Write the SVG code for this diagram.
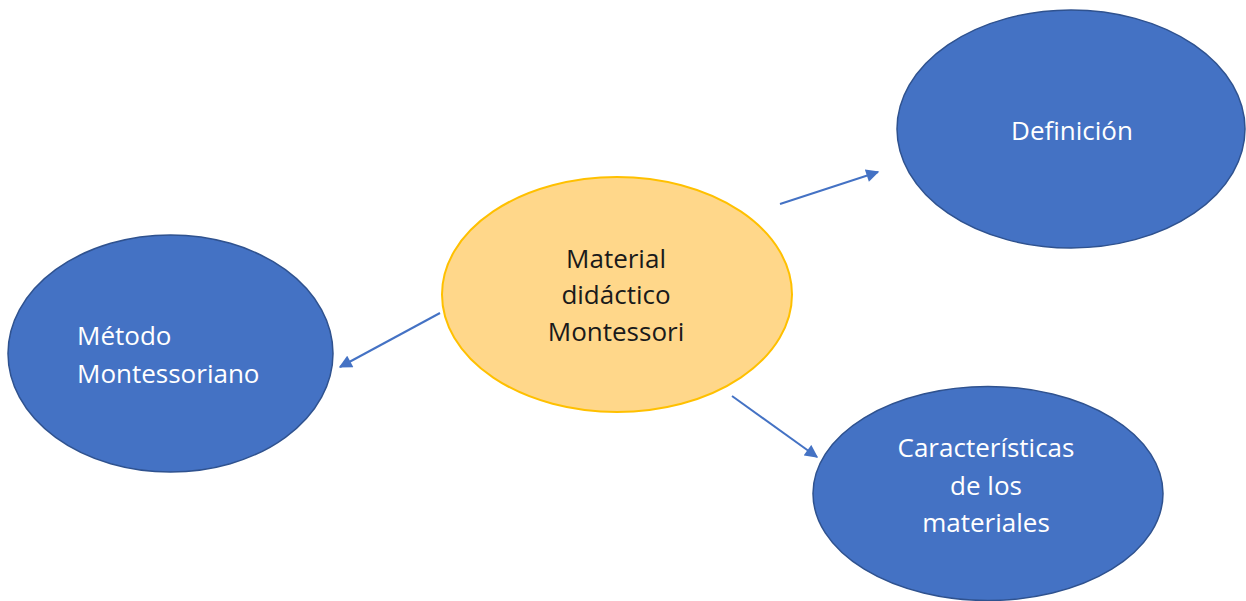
<svg xmlns="http://www.w3.org/2000/svg" width="1246" height="601" viewBox="0 0 1246 601">
<defs>
<marker id="arr" viewBox="0 0 10 10" refX="9" refY="5" markerWidth="7" markerHeight="6.5" markerUnits="strokeWidth" orient="auto">
<path d="M0,0 L10,5 L0,10 Z" fill="#4472C4"/>
</marker>
</defs>
<style>
.blue{fill:#4472C4;stroke:#2F528F;stroke-width:1.5}
.gold{fill:#FFD78A;stroke:#FFC000;stroke-width:2}
.wt{font-family:"Open Sans","Liberation Sans",sans-serif;font-size:26px;fill:#FFFFFF}
.bt{font-family:"Open Sans","Liberation Sans",sans-serif;font-size:26px;fill:#1a1a1a}
.con{stroke:#4472C4;stroke-width:2;fill:none;marker-end:url(#arr)}
</style>
<rect width="1246" height="601" fill="#FFFFFF"/>
<g id="connectors">
<line class="con" x1="780" y1="204" x2="878" y2="172"/>
<line class="con" x1="440" y1="313" x2="340" y2="367"/>
<line class="con" x1="732" y1="396" x2="817" y2="457"/>
</g>
<g id="center">
<ellipse class="gold" cx="617" cy="294.5" rx="175" ry="117.5"/>
<text class="bt" text-anchor="middle" x="616" y="268">Material</text>
<text class="bt" text-anchor="middle" x="616" y="304">didáctico</text>
<text class="bt" text-anchor="middle" x="616" y="341">Montessori</text>
</g>
<g id="metodo">
<ellipse class="blue" cx="170.5" cy="353.5" rx="162.5" ry="118.5"/>
<text class="wt" x="77" y="345">Método</text>
<text class="wt" x="77" y="383">Montessoriano</text>
</g>
<g id="definicion">
<ellipse class="blue" cx="1071" cy="129" rx="174" ry="119"/>
<text class="wt" text-anchor="middle" x="1072" y="140">Definición</text>
</g>
<g id="caracteristicas">
<ellipse class="blue" cx="988" cy="493.5" rx="175" ry="107"/>
<text class="wt" text-anchor="middle" x="986" y="457">Características</text>
<text class="wt" text-anchor="middle" x="986" y="495">de los</text>
<text class="wt" text-anchor="middle" x="986" y="532">materiales</text>
</g>
</svg>
